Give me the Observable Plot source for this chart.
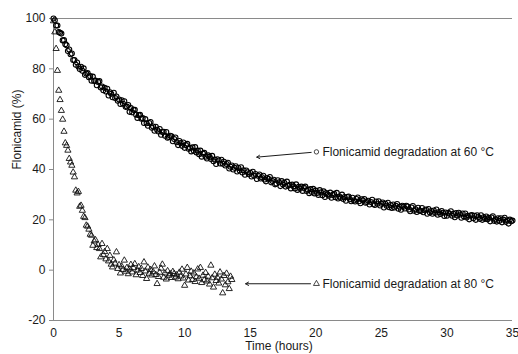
<!DOCTYPE html>
<html><head><meta charset="utf-8">
<script src="https://cdn.jsdelivr.net/npm/d3@7"></script>
<script src="https://cdn.jsdelivr.net/npm/@observablehq/plot@0.6"></script>
<style>html,body{margin:0;padding:0;background:#fff}</style>
</head><body><div id="chart"></div>
<script>
// Sampling times (hours)
const times = [
0,0.1,0.2,0.3,0.4,0.5,0.6,0.7,0.8,0.9,
1,1.1,1.2,1.3,1.4,1.5,1.6,1.7,1.8,1.9,
2,2.1,2.2,2.3,2.4,2.5,2.6,2.7,2.8,2.9,
3,3.1,3.2,3.3,3.4,3.5,3.6,3.7,3.8,3.9,
4,4.1,4.2,4.3,4.4,4.5,4.6,4.7,4.8,4.9,
5,5.1,5.2,5.3,5.4,5.5,5.6,5.7,5.8,5.9,
6,6.1,6.2,6.3,6.4,6.5,6.6,6.7,6.8,6.9,
7,7.1,7.2,7.3,7.4,7.5,7.6,7.7,7.8,7.9,
8,8.1,8.2,8.3,8.4,8.5,8.6,8.7,8.8,8.9,
9,9.1,9.2,9.3,9.4,9.5,9.6,9.7,9.8,9.9,
10,10.1,10.2,10.3,10.4,10.5,10.6,10.7,10.8,10.9,
11,11.1,11.2,11.3,11.4,11.5,11.6,11.7,11.8,11.9,
12,12.1,12.2,12.3,12.4,12.5,12.6,12.7,12.8,12.9,
13,13.1,13.2,13.3,13.4,13.5,13.6,13.7,13.8,13.9,
14,14.1,14.2,14.3,14.4,14.5,14.6,14.7,14.8,14.9,
15,15.1,15.2,15.3,15.4,15.5,15.6,15.7,15.8,15.9,
16,16.1,16.2,16.3,16.4,16.5,16.6,16.7,16.8,16.9,
17,17.1,17.2,17.3,17.4,17.5,17.6,17.7,17.8,17.9,
18,18.1,18.2,18.3,18.4,18.5,18.6,18.7,18.8,18.9,
19,19.1,19.2,19.3,19.4,19.5,19.6,19.7,19.8,19.9,
20,20.1,20.2,20.3,20.4,20.5,20.6,20.7,20.8,20.9,
21,21.1,21.2,21.3,21.4,21.5,21.6,21.7,21.8,21.9,
22,22.1,22.2,22.3,22.4,22.5,22.6,22.7,22.8,22.9,
23,23.1,23.2,23.3,23.4,23.5,23.6,23.7,23.8,23.9,
24,24.1,24.2,24.3,24.4,24.5,24.6,24.7,24.8,24.9,
25,25.1,25.2,25.3,25.4,25.5,25.6,25.7,25.8,25.9,
26,26.1,26.2,26.3,26.4,26.5,26.6,26.7,26.8,26.9,
27,27.1,27.2,27.3,27.4,27.5,27.6,27.7,27.8,27.9,
28,28.1,28.2,28.3,28.4,28.5,28.6,28.7,28.8,28.9,
29,29.1,29.2,29.3,29.4,29.5,29.6,29.7,29.8,29.9,
30,30.1,30.2,30.3,30.4,30.5,30.6,30.7,30.8,30.9,
31,31.1,31.2,31.3,31.4,31.5,31.6,31.7,31.8,31.9,
32,32.1,32.2,32.3,32.4,32.5,32.6,32.7,32.8,32.9,
33,33.1,33.2,33.3,33.4,33.5,33.6,33.7,33.8,33.9,
34,34.1,34.2,34.3,34.4,34.5,34.6,34.7,34.8,34.9,
35];

// Flonicamid remaining (%) at 60 °C
const deg60 = [
100,99.3,97.2,97.2,94.6,94.3,94.0,91.3,91.4,89.8,
89.4,87.1,87.7,85.8,86.1,83.5,83.5,81.6,82.5,80.9,
79.9,80.8,79.2,80.2,77.6,78.1,78.3,76.7,77.1,75.3,
76.9,75.2,75.3,73.5,74.8,75.1,72.6,73.0,71.5,72.5,
71.0,72.1,69.4,70.7,70.1,68.7,70.5,68.4,69.0,67.3,
67.8,66.0,67.5,66.1,67.1,64.9,65.0,65.6,62.9,64.4,
62.7,63.7,63.7,61.8,60.5,61.6,61.7,60.2,60.4,58.5,
60.0,58.4,57.4,58.5,58.9,56.6,57.1,55.4,57.0,55.8,
55.1,56.1,53.8,54.9,55.0,53.4,54.9,52.6,52.9,53.4,
53.2,51.2,52.1,52.7,50.8,49.7,51.3,50.5,49.4,50.7,
48.6,49.7,50.2,48.2,48.6,47.2,48.8,47.5,48.9,46.8,
47.5,46.1,47.5,45.1,46.3,46.6,45.1,44.4,45.6,45.0,
44.2,45.4,43.3,44.0,42.2,44.1,43.6,42.4,43.9,42.3,
43.1,41.6,42.2,42.7,40.4,41.1,41.6,40.0,40.7,41.3,
39.2,40.6,39.6,40.9,38.8,39.7,37.9,39.6,38.9,38.1,
38.7,37.2,39.1,37.5,38.2,36.2,37.5,38.0,36.4,36.9,
37.5,36.0,35.3,36.6,36.2,37.0,34.9,35.4,35.9,34.1,
34.4,35.7,34.9,33.4,35.4,34.0,34.7,33.2,35.2,33.5,
33.9,32.5,34.0,33.3,32.5,34.1,31.9,33.1,32.4,33.2,
31.5,32.7,33.2,31.5,32.0,30.6,32.2,31.1,32.3,30.5,
31.6,30.7,29.9,31.8,30.9,29.8,31.3,29.1,30.6,30.1,
29.6,30.8,28.8,29.9,30.3,29.0,30.7,28.5,29.3,28.8,
30.0,28.3,29.1,27.6,29.1,29.3,28.2,27.4,28.8,27.7,
27.3,28.3,28.9,27.4,26.6,28.2,27.7,28.3,26.8,27.1,
27.6,26.1,27.1,28.0,26.3,25.9,27.3,26.4,27.4,25.7,
26.4,26.9,24.9,26.4,25.6,26.8,25.0,25.9,24.7,26.1,
24.9,25.6,26.3,24.4,25.2,24.0,25.6,25.2,24.5,25.6,
25.3,24.1,23.4,24.9,25.5,23.6,24.2,23.1,24.8,23.7,
23.5,24.7,23.0,23.8,24.1,22.4,24.3,22.9,23.5,22.4,
23.7,22.8,24.1,22.0,23.1,22.3,23.5,22.8,21.5,22.9,
21.6,22.8,22.4,23.4,21.6,22.4,21.0,22.7,21.7,22.8,
22.1,20.8,22.5,21.3,22.5,20.9,21.6,20.2,21.7,21.9,
20.6,21.6,20.0,21.8,21.1,20.4,21.8,20.0,21.0,20.4,
21.3,20.2,20.8,19.4,20.9,21.4,19.6,20.2,19.3,20.6,
19.6,20.6,19.0,20.1,20.8,19.2,19.8,18.5,20.1,19.4,
19.7];

// Flonicamid remaining (%) at 80 °C (0 – 13.6 h)
const deg80 = [
99.0,94.6,88.0,79.3,71.4,67.7,63.4,59.9,55.1,50.5,
49.5,47.6,44.3,42.9,41.6,38.9,37.0,31.7,30.6,31.2,
25.3,25.7,23.7,21.3,20.8,17.8,17.4,16.2,14.2,13.8,
9.8,11.5,12.0,8.9,10.1,8.5,5.2,10.5,6.1,7.3,
4.4,8.5,3.6,5.8,2.3,1.2,4.0,2.7,7.2,0.6,
2.1,-1.2,1.5,0.2,3.9,-0.5,1.0,-1.5,0.4,2.2,
-0.8,0.9,2.5,-1.9,0.0,1.3,-1.0,0.6,-2.2,3.2,
-0.4,-3.4,1.1,-1.3,0.2,-2.0,-0.7,1.6,-1.8,-5.4,
-2.6,-0.9,0.7,2.3,-2.9,-1.2,-3.6,-0.3,-2.1,-1.5,
-3.0,-0.6,-1.4,-2.8,-1.9,-3.5,-0.9,-2.4,0.3,-3.2,
-6.1,-1.6,1.0,-4.0,-2.3,-0.5,-3.8,-1.2,-4.6,-2.7,
0.4,-3.3,1.0,-5.0,-2.1,-3.9,-1.0,-4.4,-2.5,-5.6,
1.9,-3.1,-6.8,-1.7,-4.2,-2.9,-5.2,-0.8,-3.6,-9.1,
-2.2,-5.9,-1.3,-4.7,-7.4,-2.5,-3.8];

const xTicks = [0,5,10,15,20,25,30,35];
const yTicks = [-20,0,20,40,60,80,100];
const xTitle = "Time (hours)";
const yTitle = "Flonicamid (%)";

// In-plot labels (data units)
const noteText = ["Flonicamid degradation at 60 °C", "Flonicamid degradation at 80 °C"];
const noteSymbol = ["circle", "triangle"];
const noteX = [20.05, 20.05];
const noteY = [47, -5.4];
const arrowFromX = [19.65, 19.6];
const arrowFromY = [46.8, -5.4];
const arrowToX = [15.5, 14.65];
const arrowToY = [44.9, -5.4];

const rows60 = deg60.map((v, i) => ({t: times[i], v}));
const rows80 = deg80.map((v, i) => ({t: times[i], v}));
const notes = noteText.map((text, i) => ({text, symbol: noteSymbol[i], x: noteX[i], y: noteY[i]}));
const arrows = arrowFromX.map((x1, i) => ({x1, y1: arrowFromY[i], x2: arrowToX[i], y2: arrowToY[i]}));

const ink = "#1a1a1a";
const axisGray = "#8a8a8a";

const chart = Plot.plot({
  width: 518, height: 354,
  marginLeft: 53, marginRight: 6, marginTop: 18, marginBottom: 34,
  style: {fontFamily: "'Liberation Sans', Arial, sans-serif", fontSize: "12px", color: ink, background: "#fff", overflow: "visible"},
  x: {domain: [0, 35]},
  y: {domain: [-20, 100]},
  marks: [
    Plot.ruleY([100], {stroke: axisGray}),
    Plot.ruleY([-20], {stroke: axisGray}),
    Plot.ruleX([0], {stroke: axisGray}),
    Plot.axisY({ticks: yTicks, tickSize: 4, tickPadding: 4, stroke: axisGray, fill: ink, label: null, tickFormat: d => String(d)}),
    Plot.axisX({ticks: xTicks, tickSize: 0, tickPadding: 8, fill: ink, label: null, tickFormat: d => String(d)}),
    Plot.text([xTitle], {frameAnchor: "bottom", dy: 29.5, dx: -4, fill: ink}),
    Plot.text([yTitle], {frameAnchor: "left", dx: -36, rotate: -90, fill: ink}),
    Plot.dot(rows60, {x: "t", y: "v", r: 2.5, stroke: "#000", strokeWidth: 1.1, fill: "none"}),
    Plot.dot(rows80, {x: "t", y: "v", r: 2.3, symbol: "triangle", stroke: "#111", strokeWidth: 0.9, fill: "none"}),
    Plot.arrow(arrows, {x1: "x1", y1: "y1", x2: "x2", y2: "y2", stroke: ink, strokeWidth: 1, headLength: 5, bend: 0}),
    Plot.dot(notes, {x: "x", y: "y", symbol: "symbol", r: 2.2, stroke: ink, strokeWidth: 0.8, fill: "white"}),
    Plot.text(notes, {x: "x", y: "y", text: "text", textAnchor: "start", dx: 6, fill: ink})
  ]
});
document.getElementById("chart").appendChild(chart);
</script>
</body></html>
